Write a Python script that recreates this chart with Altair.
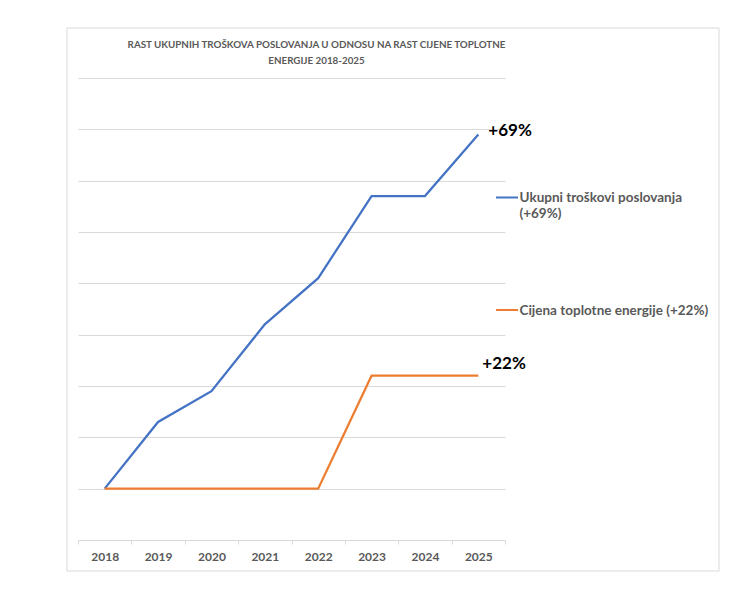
import altair as alt
import pandas as pd

years = ["2018", "2019", "2020", "2021", "2022", "2023", "2024", "2025"]
ukupni = [100, 113, 119, 132, 141, 157, 157, 169]
cijena = [100, 100, 100, 100, 100, 122, 122, 122]
series_names = ["Ukupni troškovi poslovanja (+69%)", "Cijena toplotne energije (+22%)"]
colors = ["#4472C4", "#ED7D31"]
end_labels = ["+69%", "+22%"]
title_lines = ["RAST UKUPNIH TROŠKOVA POSLOVANJA U ODNOSU NA RAST CIJENE TOPLOTNE",
               "ENERGIJE 2018-2025"]
y_grid = [100, 110, 120, 130, 140, 150, 160, 170, 180]
y_domain = [90, 180]

rows = []
for name, vals, lab in zip(series_names, [ukupni, cijena], end_labels):
    for yr, v in zip(years, vals):
        rows.append({"year": yr, "value": v, "series": name, "end": lab if yr == years[-1] else ""})
df = pd.DataFrame(rows)

FONT = "Lato"
GRAY = "#595959"
GRID = "#d9d9d9"

x = alt.X("year:O", scale=alt.Scale(type="band", paddingInner=0, paddingOuter=0),
          axis=alt.Axis(title=None, labelAngle=0, tickBand="extent", domainColor=GRID,
                        tickColor=GRID, tickSize=4, labelFont=FONT, labelFontSize=12,
                        labelFontWeight="bold", labelColor=GRAY, labelPadding=7, grid=False))
y = alt.Y("value:Q", scale=alt.Scale(domain=y_domain, nice=False, zero=False),
          axis=alt.Axis(title=None, values=y_grid, labels=False, ticks=False, domain=False,
                        grid=True, gridColor=GRID, gridWidth=1))
color = alt.Color("series:N", scale=alt.Scale(domain=series_names, range=colors), legend=None)

one = pd.DataFrame({"k": [0]})

frame = alt.Chart(one).mark_rect(fillOpacity=0, stroke=GRID, strokeWidth=1).encode(
    x=alt.value(-11), x2=alt.value(641), y=alt.value(-50), y2=alt.value(493))

title = alt.Chart(one).mark_text(font=FONT, fontSize=9.8, fontWeight="bold", color=GRAY,
                                 align="center", baseline="alphabetic", lineHeight=15.3).encode(
    x=alt.value(238.5), y=alt.value(-29.7), text=alt.value(title_lines))

lines = alt.Chart(df).mark_line(strokeWidth=2.25).encode(x=x, y=y, color=color)

lab1 = alt.Chart(df).transform_filter(alt.datum.end == end_labels[0]).mark_text(
    font=FONT, fontSize=17, fontWeight="bold", color="black", align="left",
    baseline="middle", dx=10, dy=-3).encode(x=x, y=y, text="end:N")
lab2 = alt.Chart(df).transform_filter(alt.datum.end == end_labels[1]).mark_text(
    font=FONT, fontSize=17, fontWeight="bold", color="black", align="left",
    baseline="middle", dx=4, dy=-12).encode(x=x, y=y, text="end:N")

leg_layers = []
leg_sym_y = [119.5, 232]
leg_txt_y = [124.3, 236.5]
leg_texts = [series_names[0].rsplit(" ", 1), [series_names[1]]]
for c, sy, ty, t in zip(colors, leg_sym_y, leg_txt_y, leg_texts):
    leg_layers.append(alt.Chart(one).mark_rule(color=c, strokeWidth=2).encode(
        x=alt.value(418), x2=alt.value(440), y=alt.value(sy)))
    leg_layers.append(alt.Chart(one).mark_text(
        font=FONT, fontSize=13.5, fontWeight="bold", color=GRAY, align="left",
        baseline="alphabetic", lineHeight=15.4).encode(
        x=alt.value(441.5), y=alt.value(ty), text=alt.value(t)))

chart = alt.layer(frame, title, lines, lab1, lab2, *leg_layers).properties(
    width=427, height=462,
    autosize=alt.AutoSizeParams(type="none"),
    padding={"left": 70, "top": 70, "right": 230, "bottom": 40},
    background="white",
).configure_view(stroke=None)

chart.save("out.html", embed_options={"renderer": "svg", "actions": False})
